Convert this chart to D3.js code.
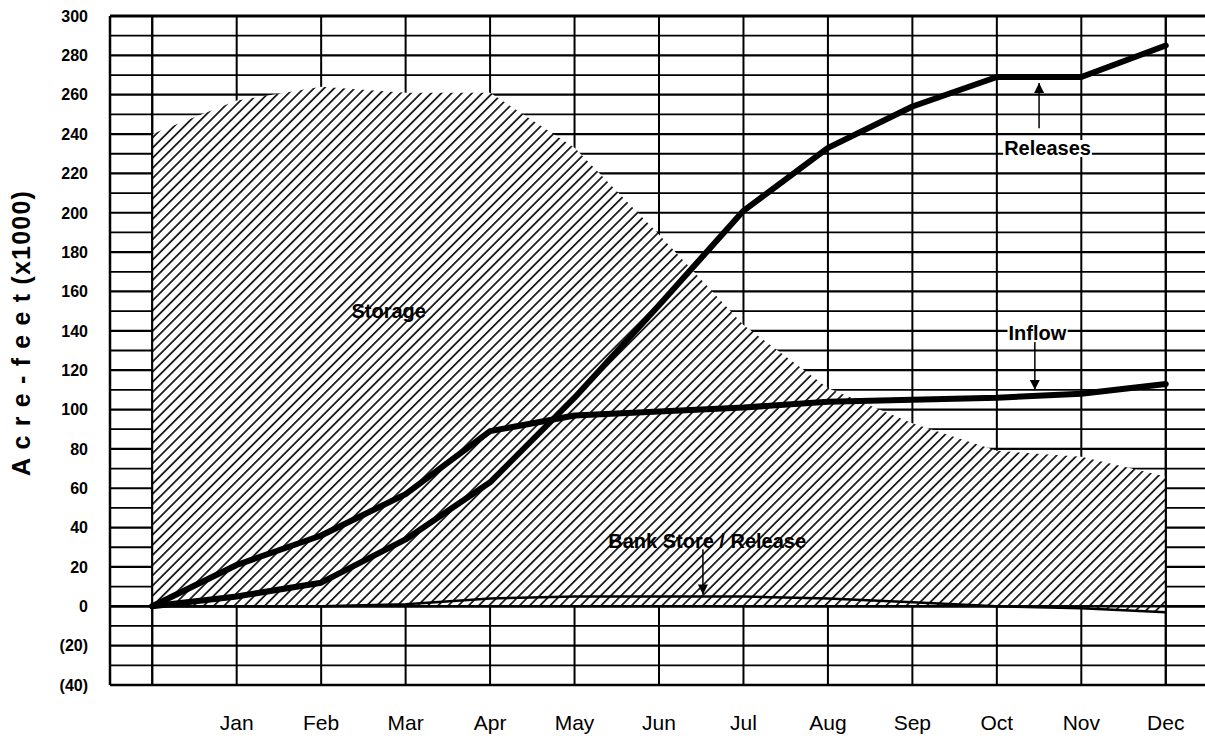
<!DOCTYPE html>
<html>
<head>
<meta charset="utf-8">
<script src="https://cdn.jsdelivr.net/npm/d3@7"></script>
<style>
  html, body { margin: 0; padding: 0; background: #fff; }
  svg { display: block; }
</style>
</head>
<body>
<svg id="chart" width="1205" height="740"></svg>
<script>
// ---- data ----
const months = ["", "Jan", "Feb", "Mar", "Apr", "May", "Jun", "Jul", "Aug", "Sep", "Oct", "Nov", "Dec"];
const storage  = [240, 257, 264, 261, 261, 233, 189, 143, 111, 93, 79, 76, 66];
const inflow   = [0, 21, 36, 57, 89, 97, 99, 101, 104, 105, 106, 108, 113];
const releases = [0, 5, 12, 34, 63, 106, 153, 201, 233, 254, 269, 269, 285];
const bank     = [0, 0, 0, 1, 4, 5, 5, 5, 4, 2, 0, -1, -3];
const yTicks = [300, 280, 260, 240, 220, 200, 180, 160, 140, 120, 100, 80, 60, 40, 20, 0, -20, -40];
const yGrid = d3.range(-40, 301, 10);
const yTitle = "A c r e - f e e t (x1000)";
// annotations: [label, labelIndex, labelValue, arrowIndex, arrowFrom, arrowTo]
const notes = [
  ["Releases", 10.6, 233, 10.5, 243, 266],
  ["Inflow", 10.48, 139, 10.45, 135, 110],
  ["Bank Store / Release", 6.57, 33.5, 6.52, 29, 6]
];
const storageLabel = ["Storage", 2.8, 150];

// ---- setup ----
const svg = d3.select("#chart");
const x = d3.scaleLinear().domain([-0.5, 12.5]).range([110, 1208]);
const y = d3.scaleLinear().domain([-40, 300]).range([685, 16]);
const idx = d3.range(months.length);

const defs = svg.append("defs");
const P = 7.2;
const pat = defs.append("pattern")
  .attr("id", "hatch").attr("patternUnits", "userSpaceOnUse")
  .attr("width", 12).attr("height", P)
  .attr("patternTransform", "rotate(-45)");
pat.append("rect").attr("width", 12).attr("height", P).attr("fill", "#fff");
pat.append("line").attr("x1", 0).attr("x2", 12).attr("y1", P / 2).attr("y2", P / 2)
  .attr("stroke", "#000").attr("stroke-width", 1.6);

const FONT = "'Liberation Sans', Arial, sans-serif";

// ---- grid ----
const g = svg.append("g");
g.selectAll("line.h").data(yGrid).join("line")
  .attr("x1", x(-0.5)).attr("x2", x(12.5))
  .attr("y1", d => y(d)).attr("y2", d => y(d))
  .attr("stroke", "#000").attr("stroke-width", d => d % 20 === 0 ? 2.2 : 1.8);
g.selectAll("line.v").data(idx).join("line")
  .attr("x1", d => x(d)).attr("x2", d => x(d))
  .attr("y1", y(300)).attr("y2", y(-40))
  .attr("stroke", "#000").attr("stroke-width", 2);
// border
g.append("line").attr("x1", x(-0.5)).attr("x2", x(-0.5)).attr("y1", y(300)).attr("y2", y(-40))
  .attr("stroke", "#000").attr("stroke-width", 2.5);
g.append("line").attr("x1", x(-0.5)).attr("x2", x(12.5)).attr("y1", y(300)).attr("y2", y(300))
  .attr("stroke", "#000").attr("stroke-width", 3);
g.append("line").attr("x1", x(-0.5)).attr("x2", x(12.5)).attr("y1", y(-40)).attr("y2", y(-40))
  .attr("stroke", "#000").attr("stroke-width", 2.5);

// ---- storage area ----
const areaStorage = d3.area().x(i => x(i)).y0(i => y(bank[i])).y1(i => y(storage[i]));
svg.append("path").attr("d", areaStorage(idx)).attr("fill", "url(#hatch)");
const areaBank = d3.area().x(i => x(i)).y0(() => y(0)).y1(i => y(Math.max(bank[i], 0)));
svg.append("path").attr("d", areaBank(idx)).attr("fill", "url(#hatch)");
svg.append("path").attr("d", d3.line().x(i => x(i)).y(i => y(bank[i]))(idx))
  .attr("fill", "none").attr("stroke", "#000").attr("stroke-width", 2.5);
// edge gridlines over area
[0, 12].forEach(i => {
  svg.append("line").attr("x1", x(i)).attr("x2", x(i)).attr("y1", y(300)).attr("y2", y(-40))
    .attr("stroke", "#000").attr("stroke-width", 2);
});
svg.append("line").attr("x1", x(-0.5)).attr("x2", x(12.5)).attr("y1", y(0)).attr("y2", y(0))
  .attr("stroke", "#000").attr("stroke-width", 2.4);

// ---- series lines ----
const line = d3.line().x(i => x(i));
[inflow, releases].forEach(s => {
  svg.append("path").attr("d", line.y(i => y(s[i]))(idx))
    .attr("fill", "none").attr("stroke", "#000").attr("stroke-width", 6)
    .attr("stroke-linejoin", "round").attr("stroke-linecap", "round");
});

// ---- axes text ----
svg.append("g").selectAll("text").data(yTicks).join("text")
  .attr("x", 88).attr("y", d => y(d)).attr("dy", "0.36em")
  .attr("text-anchor", "end").attr("font-family", FONT).attr("font-weight", "bold")
  .attr("font-size", 16).text(d => d < 0 ? "(" + (-d) + ")" : d);

svg.append("g").selectAll("text").data(idx.filter(i => months[i])).join("text")
  .attr("x", d => x(d)).attr("y", 730).attr("text-anchor", "middle")
  .attr("font-family", FONT).attr("font-size", 21).text(d => months[d]);

svg.append("text").attr("transform", "translate(30,333) rotate(-90)")
  .attr("text-anchor", "middle").attr("font-family", FONT).attr("font-weight", "bold")
  .attr("font-size", 25).attr("letter-spacing", 1.2).text(yTitle);

// ---- annotations ----
defs.append("marker").attr("id", "arr").attr("viewBox", "0 0 10 10")
  .attr("refX", 10).attr("refY", 5).attr("markerWidth", 10).attr("markerHeight", 10)
  .attr("markerUnits", "userSpaceOnUse").attr("orient", "auto")
  .append("path").attr("d", "M0,0 L10,5 L0,10 Z").attr("fill", "#000");

notes.forEach(([label, li, lv, ai, af, at], k) => {
  svg.append("line").attr("x1", x(ai)).attr("x2", x(ai)).attr("y1", y(af)).attr("y2", y(at))
    .attr("stroke", "#000").attr("stroke-width", 1.5).attr("marker-end", "url(#arr)");
  const t = svg.append("text").attr("x", x(li)).attr("y", y(lv)).attr("dy", "0.36em")
    .attr("text-anchor", "middle").attr("font-family", FONT).attr("font-weight", "bold")
    .attr("font-size", 20).text(label);
  if (k < 2) {
    const b = t.node().getBBox();
    svg.insert("rect", () => t.node()).attr("x", b.x - 1).attr("y", b.y + 3)
      .attr("width", b.width + 2).attr("height", b.height - 5).attr("fill", "#fff");
  }
});
svg.append("text").attr("x", x(storageLabel[1])).attr("y", y(storageLabel[2])).attr("dy", "0.36em")
  .attr("text-anchor", "middle").attr("font-family", FONT).attr("font-weight", "bold")
  .attr("font-size", 20).text(storageLabel[0]);
</script>
</body>
</html>
